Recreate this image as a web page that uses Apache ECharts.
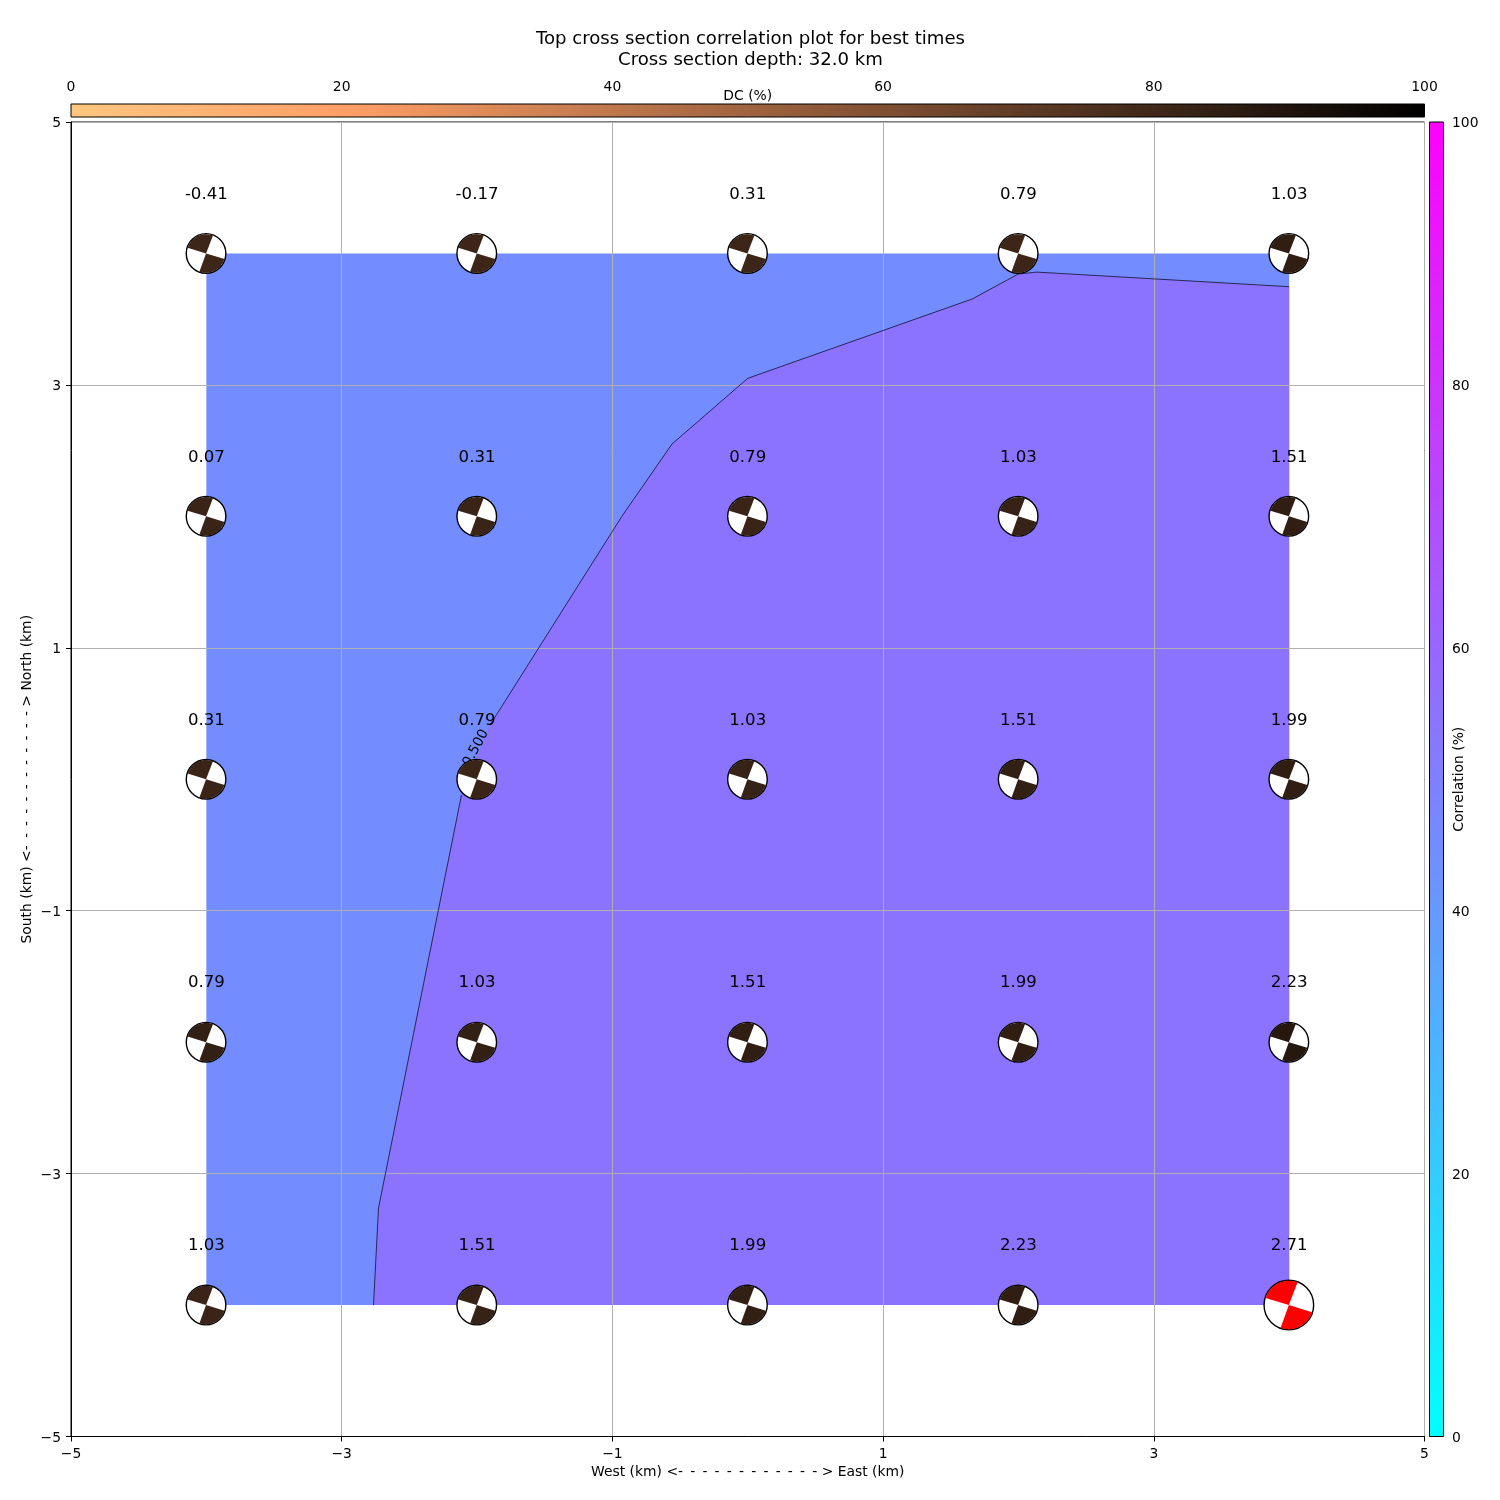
<!DOCTYPE html>
<html>
<head>
<meta charset="utf-8">
<title>Cross section correlation</title>
<script src="https://cdn.jsdelivr.net/npm/echarts@6/dist/echarts.min.js"></script>
<style>
    html, body { margin: 0; padding: 0; background: #fff; }
    #chart { width: 1500px; height: 1500px; }
</style>
</head>
<body>
<div id="chart"></div>
<script>
    // grid positions (km)
    var eastKm = [-4, -2, 0, 2, 4];
    var northKm = [4, 2, 0, -2, -4];
    // correlation label per row, top row first
    var corrRow1 = [-0.41, -0.17, 0.31, 0.79, 1.03];
    var corrRow2 = [0.07, 0.31, 0.79, 1.03, 1.51];
    var corrRow3 = [0.31, 0.79, 1.03, 1.51, 1.99];
    var corrRow4 = [0.79, 1.03, 1.51, 1.99, 2.23];
    var corrRow5 = [1.03, 1.51, 1.99, 2.23, 2.71];
    // double couple percent
    var dcRow1 = [81, 81, 81, 81, 85];
    var dcRow2 = [82, 82, 82, 83, 85];
    var dcRow3 = [82, 82, 83, 84, 85];
    var dcRow4 = [84, 84, 85, 85, 88];
    var dcRow5 = [82, 83, 84, 85, 85];
    // the 0.5 contour, bottom to top
    var contourEast = [-2.765, -2.728, -2.115, -1.904, -0.93, -0.56, 0, 1.657, 2.0, 2.137, 4];
    var contourNorth = [-4, -3.262, -0.12, 0.413, 2, 2.55, 3.05, 3.653, 3.844, 3.858, 3.747];
    var contourLabel = '0.500';
    var contourLabelAt = [-2.008, 0.238];
    var mapTicks = [-5, -3, -1, 1, 3, 5];
    var barTicks = [0, 20, 40, 60, 80, 100];

    var font = 'DejaVu Sans';
    var blue = '#738cff';
    var purple = '#8c73ff';
    var gray = '#b0b0b0';
    var bestColor = '#ff0000';
    var rad = Math.PI / 180;
    var dashes = '<-' + new Array(12).join(' \u2009-') + ' >';

    var corrRows = [corrRow1, corrRow2, corrRow3, corrRow4, corrRow5];
    var dcRows = [dcRow1, dcRow2, dcRow3, dcRow4, dcRow5];
    var cells = [];
    var bestCorr = -Infinity;
    for (var r = 0; r < northKm.length; r++) {
        for (var c = 0; c < eastKm.length; c++) {
            cells.push([eastKm[c], northKm[r], corrRows[r][c], dcRows[r][c]]);
            bestCorr = Math.max(bestCorr, corrRows[r][c]);
        }
    }

    // reversed copper colormap
    function dcColor(dc) {
        var x = 1 - dc / 100;
        return 'rgb(' + Math.round(255 * Math.min(1, 1.25 * x)) + ',' + Math.round(199.2 * x) + ',' + Math.round(126.9 * x) + ')';
    }

    function tickLabel(v) {
        return String(v).replace('-', '\u2212');
    }

    function polygon(points, color) {
        return function (params, api) {
            return {
                type: 'polygon',
                shape: { points: points.map(function (p) { return api.coord(p); }) },
                style: { fill: color }
            };
        };
    }

    function colorBar(stops, horizontal) {
        return function (params, api) {
            var a = horizontal ? api.coord([0, 1]) : api.coord([0, 100]);
            var b = horizontal ? api.coord([100, 0]) : api.coord([1, 0]);
            return {
                type: 'rect',
                shape: { x: a[0], y: a[1], width: b[0] - a[0], height: b[1] - a[1] },
                style: {
                    fill: new echarts.graphic.LinearGradient(0, 0, horizontal ? 1 : 0, horizontal ? 0 : 1, stops),
                    stroke: '#000',
                    lineWidth: 1
                }
            };
        };
    }

    function renderBall(params, api) {
        var p = api.coord([api.value(0), api.value(1)]);
        var corr = api.value(2);
        var best = corr === bestCorr;
        var radius = best ? 24.8 : 19.8;
        var color = best ? bestColor : dcColor(api.value(3));
        return {
            type: 'group',
            children: [
                { type: 'circle', shape: { cx: p[0] - 0.3, cy: p[1], r: radius }, style: { fill: '#fff', stroke: '#000', lineWidth: 1.4 } },
                { type: 'sector', shape: { cx: p[0] - 0.3, cy: p[1], r0: 0, r: radius - 0.5, startAngle: -163 * rad, endAngle: -69 * rad, clockwise: true }, style: { fill: color } },
                { type: 'sector', shape: { cx: p[0] - 0.3, cy: p[1], r0: 0, r: radius - 0.5, startAngle: 17 * rad, endAngle: 110 * rad, clockwise: true }, style: { fill: color } }
            ]
        };
    }

    function renderValue(params, api) {
        var p = api.coord([api.value(0), api.value(1)]);
        return {
            type: 'text',
            x: p[0],
            y: p[1] - 59,
            style: {
                text: api.value(2).toFixed(2),
                fill: '#000',
                font: '16.6px "' + font + '"',
                align: 'center',
                verticalAlign: 'middle'
            }
        };
    }

    var contourPairs = contourEast.map(function (v, i) { return [v, contourNorth[i]]; });
    var lowRegion = [[eastKm[0], northKm[0]], [eastKm[4], northKm[0]], [eastKm[4], northKm[4]], [eastKm[0], northKm[4]]];
    var highRegion = contourPairs.concat([[eastKm[4], northKm[4]]]);

    var contourLine = {
        type: 'line',
        xAxisIndex: 0,
        yAxisIndex: 0,
        symbol: 'none',
        silent: true,
        z: 2,
        lineStyle: { color: '#101030', width: 0.8 }
    };

    var myChart = echarts.init(document.getElementById('chart'), null, { renderer: 'canvas' });
    var axisText = { color: '#000', fontFamily: font, fontSize: 13.9 };
    var nameText = { color: '#000', fontFamily: font, fontSize: 13.9 };
    var option = {
        animation: false,
        backgroundColor: '#fff',
        title: {
            text: 'Top cross section correlation plot for best times\nCross section depth: 32.0 km',
            left: 745.5,
            top: 24,
            textAlign: 'center',
            textStyle: { color: '#000', fontFamily: font, fontSize: 18.1, fontWeight: 'normal', lineHeight: 21 }
        },
        grid: [
            { left: 71, top: 122, width: 1353.5, height: 1314.5, show: true, borderColor: '#000', borderWidth: 1, backgroundColor: 'transparent' },
            { left: 71, top: 104, width: 1353.5, height: 13 },
            { left: 1429.5, top: 122, width: 14, height: 1314.5 }
        ],
        xAxis: [
            {
                type: 'value', gridIndex: 0, min: -5, max: 5, z: 1,
                name: 'West (km) ' + dashes + ' East (km)',
                nameLocation: 'middle', nameGap: 28.5, nameMoveOverlap: false,
                nameTextStyle: nameText,
                axisLine: { onZero: false, lineStyle: { color: '#000', width: 1 } },
                axisTick: { customValues: mapTicks, length: 5, lineStyle: { color: '#000', width: 1 } },
                axisLabel: Object.assign({ customValues: mapTicks, margin: 11, formatter: tickLabel }, axisText),
                splitLine: { show: true, lineStyle: { color: gray, width: 1 } }
            },
            {
                type: 'value', gridIndex: 1, position: 'top', min: 0, max: 100,
                name: 'DC (%)',
                nameLocation: 'middle', nameGap: 1, nameMoveOverlap: false,
                nameTextStyle: nameText,
                axisLine: { show: false },
                axisTick: { customValues: barTicks, length: 5, lineStyle: { color: '#000', width: 1 } },
                axisLabel: Object.assign({ customValues: barTicks, margin: 10 }, axisText),
                splitLine: { show: false }
            },
            { type: 'value', gridIndex: 2, min: 0, max: 1, show: false }
        ],
        yAxis: [
            {
                type: 'value', gridIndex: 0, min: -5, max: 5, z: 1,
                name: 'South (km) ' + dashes + ' North (km)',
                nameLocation: 'middle', nameGap: 37, nameRotate: 90, nameMoveOverlap: false,
                nameTextStyle: nameText,
                axisLine: { onZero: false, lineStyle: { color: '#000', width: 1 } },
                axisTick: { customValues: mapTicks, length: 5, lineStyle: { color: '#000', width: 1 } },
                axisLabel: Object.assign({ customValues: mapTicks, margin: 10, verticalAlign: 'top', padding: [-5.5, 0, 0, 0], formatter: tickLabel }, axisText),
                splitLine: { show: true, lineStyle: { color: gray, width: 1 } }
            },
            { type: 'value', gridIndex: 1, min: 0, max: 1, show: false },
            {
                type: 'value', gridIndex: 2, position: 'right', min: 0, max: 100,
                name: 'Correlation (%)',
                nameLocation: 'middle', nameGap: 9, nameRotate: 90, nameMoveOverlap: false,
                nameTextStyle: nameText,
                axisLine: { show: false },
                axisTick: { customValues: barTicks, length: 5, lineStyle: { color: '#000', width: 1 } },
                axisLabel: Object.assign({ customValues: barTicks, margin: 8.5, verticalAlign: 'top', padding: [-5.5, 0, 0, 0] }, axisText),
                splitLine: { show: false }
            }
        ],
        series: [
            { type: 'custom', xAxisIndex: 0, yAxisIndex: 0, z: 0, silent: true, clip: false, data: [[0, 0]], renderItem: polygon(lowRegion, blue) },
            { type: 'custom', xAxisIndex: 0, yAxisIndex: 0, z: 0, silent: true, clip: false, data: [[0, 0]], renderItem: polygon(highRegion, purple) },
            Object.assign({}, contourLine, { data: contourPairs.slice(0, 3) }),
            Object.assign({}, contourLine, { data: contourPairs.slice(3) }),
            {
                type: 'custom', xAxisIndex: 0, yAxisIndex: 0, z: 3, silent: true, clip: false,
                data: [contourLabelAt],
                renderItem: function (params, api) {
                    var p = api.coord([api.value(0), api.value(1)]);
                    return {
                        type: 'text', x: p[0], y: p[1], rotation: 62 * rad,
                        style: { text: contourLabel, fill: '#000', font: '13.9px "' + font + '"', align: 'center', verticalAlign: 'middle' }
                    };
                }
            },
            { type: 'custom', xAxisIndex: 0, yAxisIndex: 0, z: 4, silent: true, clip: false, data: cells, renderItem: renderBall },
            { type: 'custom', xAxisIndex: 0, yAxisIndex: 0, z: 5, silent: true, clip: false, data: cells, renderItem: renderValue },
            {
                type: 'custom', xAxisIndex: 1, yAxisIndex: 1, silent: true, clip: false, data: [[0, 0]],
                renderItem: colorBar([
                    { offset: 0, color: '#ffc77f' },
                    { offset: 0.2, color: '#ff9f66' },
                    { offset: 1, color: '#000000' }
                ], true)
            },
            {
                type: 'custom', xAxisIndex: 2, yAxisIndex: 2, silent: true, clip: false, data: [[0, 0]],
                renderItem: colorBar([
                    { offset: 0, color: '#ff00ff' },
                    { offset: 1, color: '#00ffff' }
                ], false)
            }
        ]
    };
    myChart.setOption(option);
</script>
</body>
</html>
